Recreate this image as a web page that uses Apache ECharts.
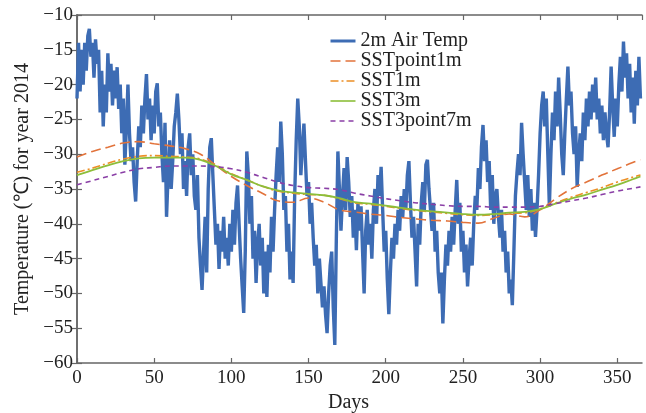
<!DOCTYPE html>
<html>
<head>
<meta charset="utf-8">
<script src="https://cdn.jsdelivr.net/npm/echarts@6/dist/echarts.min.js"></script>
<style>
html,body{margin:0;padding:0;background:#fff;}
#chart{width:646px;height:413px;}
</style>
</head>
<body>
<div id="chart"></div>
<script>
// Daily 2 m air temperature (day 0 .. 365)
const airTemp = [
-22,-14,-21,-15,-20,-14,-18,-13,-12,-16,
-14,-19,-13.5,-17,-15,-24,-18,-26,-20,-24,
-15.5,-21,-17,-23,-18,-22,-17.5,-23.5,-20,-27,
-22,-31.5,-26,-20,-27,-31,-29,-34,-36.8,-31,
-26,-29,-23,-27,-22,-18.5,-25,-22,-28,-23,
-27,-21,-19.8,-26,-24,-30,-34,-25.5,-39,-33,
-28,-35,-31,-26,-24,-21.3,-25,-30,-27,-35,
-31,-36,-29,-27,-33,-30,-36,-38,-33,-42,
-46,-49.5,-44,-39,-47,-35,-29,-27.7,-33,-38,
-43,-40,-46.5,-41,-44,-39,-45,-42,-46,-40,
-44,-38,-43,-37,-34.5,-40,-45,-49,-52.8,-44,
-29.6,-33,-40,-36,-45,-41,-48.5,-43,-40,-46,
-42,-50,-44,-50.5,-43,-47,-39,-44,-38,-33,
-29,-34,-25.3,-30,-38,-36,-44,-40,-48,-44,
-48.5,-36,-28,-22,-26,-33,-29,-25.6,-31,-36,
-34,-40,-37,-42,-46,-43,-50,-45,-48.5,-52,
-49,-53,-55.7,-50,-46,-44,-52,-57.4,-42,-29.6,
-35,-41,-36,-32,-38,-30.4,-34,-39,-36,-42,
-38,-43.8,-37,-41,-37.5,-44,-50,-41,-38,-43,
-40,-45,-38,-35,-40,-33,-36,-31.8,-38,-44,
-41,-48,-53,-47,-42,-45,-40,-43,-38,-41,
-36,-39,-35,-38,-33,-31,-37,-42,-39,-44,
-49,-40,-43,-37,-34,-38,-31.5,-30.8,-35,-38,
-41,-37,-44,-41,-47,-50,-47,-54.3,-48,-43,
-46,-41,-44,-39,-43,-38,-33.7,-40,-37,-44,
-41,-47,-43,-49,-45,-42,-46,-40,-36,-38,
-32,-35,-29,-25.8,-31,-28,-34,-31,-38,-33,
-40,-36,-35,-39,-42,-38,-44,-41,-47,-44,
-50,-48,-51.7,-44,-36,-32.7,-30,-33,-25.5,-30,
-34,-38,-33,-39,-35,-41,-37,-41.9,-38,-33,
-27,-23,-21,-26,-22,-30,-37.5,-30,-24,-28,
-21,-26,-19,-24,-30,-33,-27,-22,-17.4,-23,
-21,-27,-30,-26,-34.7,-30,-27,-31,-24,-28,
-22,-26,-21,-25,-20,-24,-19,-25,-22,-27,
-23,-28,-24,-27,-29,-24,-17.4,-23,-27.5,-22,
-26,-20,-16,-21,-13.8,-19,-15.5,-22,-17,-24,
-19,-25.6,-18,-23,-16,-22
];

// Sea-surface temperatures, sampled every 10 days (last at day 365)
const sstDays = [0,10,20,30,40,50,60,70,80,90,100,110,120,130,140,150,160,170,180,190,200,210,220,230,240,250,260,270,280,290,300,310,320,330,340,350,360,365];
const sstPoint1m = [-30.4,-29.6,-29.0,-28.4,-28.2,-28.5,-28.8,-29.2,-30.0,-31.6,-33.2,-34.5,-35.6,-36.7,-36.9,-36.3,-36.9,-38.0,-38.3,-38.6,-38.8,-39.1,-39.3,-39.5,-39.6,-39.8,-39.9,-39.2,-38.6,-39.0,-38.0,-36.4,-35.0,-34.0,-33.0,-32.1,-31.2,-30.8];
const sst1m = [-32.6,-32.0,-31.3,-30.7,-30.3,-30.2,-30.3,-30.4,-30.7,-31.6,-32.8,-33.7,-34.6,-35.3,-35.6,-35.8,-35.9,-36.4,-37.0,-37.2,-37.5,-37.8,-38.1,-38.3,-38.5,-38.7,-38.8,-38.7,-38.5,-38.4,-37.9,-37.0,-36.2,-35.5,-34.8,-34.0,-33.3,-33.0];
const sst3m = [-33.0,-32.3,-31.6,-31.0,-30.6,-30.5,-30.5,-30.5,-30.8,-31.7,-32.9,-33.7,-34.6,-35.2,-35.5,-35.7,-35.9,-36.3,-36.9,-37.1,-37.4,-37.7,-38.0,-38.2,-38.4,-38.6,-38.7,-38.6,-38.4,-38.3,-37.9,-37.1,-36.4,-35.8,-35.1,-34.4,-33.6,-33.2];
const sst3point7m = [-34.4,-33.8,-33.2,-32.6,-32.1,-31.9,-31.7,-31.7,-31.7,-31.8,-32.1,-32.6,-33.3,-34.0,-34.5,-34.8,-34.9,-35.1,-35.6,-36.0,-36.4,-36.7,-37.0,-37.2,-37.4,-37.5,-37.5,-37.6,-37.6,-37.6,-37.5,-37.1,-36.7,-36.3,-35.8,-35.3,-34.9,-34.7];

const seriesNames = ['2m Air Temp','SSTpoint1m','SST1m','SST3m','SST3point7m'];
const xTicks = [0,50,100,150,200,250,300,350];

const font = 'Liberation Serif, Times New Roman, serif';
const airData = airTemp.map((v, i) => [i, v]);
const pair = arr => arr.map((v, i) => [sstDays[i], v]);

const chart = echarts.init(document.getElementById('chart'), null, {renderer: 'canvas'});
const axisLine = {show: true, lineStyle: {color: '#666', width: 1.5}};
const tick = {show: true, inside: true, length: 5, lineStyle: {color: '#666', width: 1.2}};

const styles = [
  {color: '#3D6CB4', width: 3.4, type: 'solid'},
  {color: '#E2733B', width: 1.6, type: [10, 5]},
  {color: '#EC8F26', width: 1.6, type: [8, 3, 2, 3]},
  {color: '#8DBE3A', width: 1.8, type: 'solid'},
  {color: '#8A3FA6', width: 1.6, type: [5, 4]}
];

chart.setOption({
  backgroundColor: '#fff',
  animation: false,
  grid: {left: 77, right: 4, top: 15, bottom: 50, containLabel: false, outerBoundsMode: 'none'},
  legend: {
    orient: 'vertical',
    left: 324, top: 26,
    itemWidth: 25, itemHeight: 12, itemGap: 0,
    itemStyle: {opacity: 0},
    textStyle: {fontFamily: font, fontSize: 20, color: '#222', lineHeight: 19.3},
    data: seriesNames.map((n, i) => ({
      name: n,
      itemStyle: {opacity: 0},
      lineStyle: {color: styles[i].color, width: i === 0 ? 3 : 1.6, type: styles[i].type, opacity: 1}
    }))
  },
  xAxis: [{
    type: 'value', min: 0, max: 366, interval: 50, position: 'bottom',
    axisLine: axisLine, axisTick: tick, splitLine: {show: false},
    axisLabel: {fontFamily: font, fontSize: 19, color: '#222', margin: 6, showMaxLabel: false,
      formatter: v => xTicks.includes(v) ? String(v) : ''},
    name: 'Days', nameLocation: 'middle', nameGap: 28,
    nameTextStyle: {fontFamily: font, fontSize: 20, color: '#222', padding: [0, 22, 0, 0]}
  }, {
    type: 'value', min: 0, max: 366, interval: 50, position: 'top',
    axisLine: axisLine, axisTick: tick, splitLine: {show: false}, axisLabel: {show: false}
  }],
  yAxis: [{
    type: 'value', min: -60, max: -10, interval: 5, position: 'left',
    axisLine: axisLine, axisTick: tick, splitLine: {show: false},
    axisLabel: {fontFamily: font, fontSize: 19, color: '#222', margin: 4,
      formatter: v => String(v).replace('-', '\u2212')},
    name: 'Temperature (\u2103) for year 2014', nameLocation: 'middle', nameGap: 32,
    nameTextStyle: {fontFamily: font, fontSize: 20, color: '#222'}
  }, {
    type: 'value', min: -60, max: -10, interval: 5, position: 'right',
    axisLine: axisLine, axisTick: tick, splitLine: {show: false}, axisLabel: {show: false}
  }],
  series: [
    {name: seriesNames[0], type: 'line', data: airData, symbol: 'none', showSymbol: false,
     lineStyle: styles[0], itemStyle: {color: styles[0].color}, z: 2},
    {name: seriesNames[1], type: 'line', data: pair(sstPoint1m), symbol: 'none', smooth: 0.4,
     lineStyle: styles[1], itemStyle: {color: styles[1].color}, z: 3},
    {name: seriesNames[2], type: 'line', data: pair(sst1m), symbol: 'none', smooth: 0.4,
     lineStyle: styles[2], itemStyle: {color: styles[2].color}, z: 4},
    {name: seriesNames[3], type: 'line', data: pair(sst3m), symbol: 'none', smooth: 0.4,
     lineStyle: styles[3], itemStyle: {color: styles[3].color}, z: 5},
    {name: seriesNames[4], type: 'line', data: pair(sst3point7m), symbol: 'none', smooth: 0.4,
     lineStyle: styles[4], itemStyle: {color: styles[4].color}, z: 6}
  ]
});
</script>
</body>
</html>
